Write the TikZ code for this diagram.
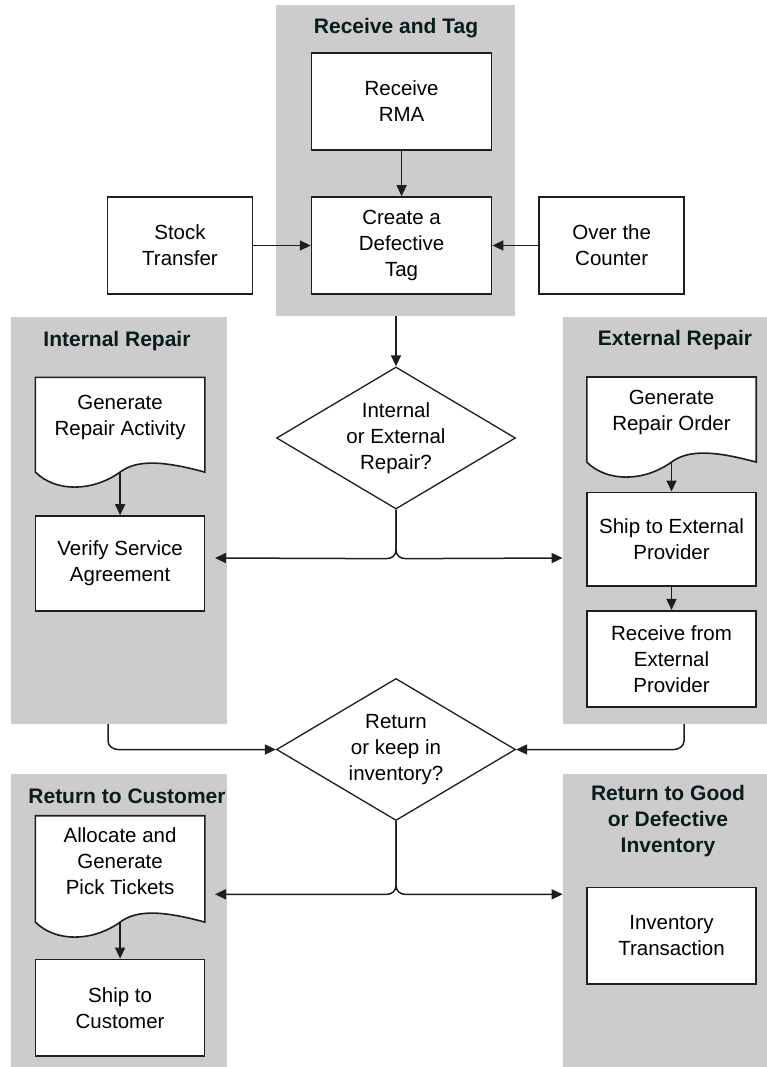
\documentclass[tikz,border=0pt]{standalone}
\usepackage{fontspec}
\setmainfont{Liberation Sans}
\usetikzlibrary{arrows.meta,shapes.geometric,calc}

\pgfdeclarelayer{panels}
\pgfdeclarelayer{docs}
\pgfsetlayers{panels,docs,main}

\definecolor{lane}{RGB}{204,204,204}
\definecolor{ink}{RGB}{30,30,30}
\definecolor{head}{RGB}{8,28,28}

% document symbol: straight top and sides, wavy bottom edge
\newcommand\docoutline[1]{%
  \draw[docline] (#1.north west) -- ($(#1.south west)+(0,15)$)
    .. controls +(20,20) and +(-28,20) .. ($(#1.south)+(0,15)$)
    .. controls +(16,-12) and +(-44,-12) .. ($(#1.south east)+(0,15)$)
    -- (#1.north east) -- cycle;}

\begin{document}
\begin{tikzpicture}[
  x=1pt, y=-1pt,
  txt/.style={font=\fontsize{20.5pt}{26pt}\selectfont, align=center},
  panel/.style={fill=lane, draw=none, anchor=north west, inner sep=0pt},
  lanetitle/.style={font=\fontsize{21pt}{26pt}\selectfont\bfseries, text=head, align=center, inner sep=0pt},
  box/.style={txt, draw=ink, line width=1.6pt, fill=white, minimum width=169pt, inner sep=2pt},
  doc/.style={txt, minimum width=169pt, inner sep=2pt, anchor=north},
  docline/.style={draw=ink, line width=1.6pt, fill=white},
  decision/.style={txt, diamond, draw=ink, line width=1.3pt, fill=white, aspect=1.68,
                   minimum width=239pt, minimum height=142pt, inner sep=0pt},
  flow/.style={draw=ink, line width=1.5pt, -{Triangle[length=11pt,width=10pt]}},
]
\useasboundingbox (0,0) rectangle (767,1067);

% swim-lane panels
\begin{pgfonlayer}{panels}
  \node[panel, minimum width=239pt, minimum height=311pt] (rt) at (276,5) {};
  \node[panel, minimum width=216pt, minimum height=407pt] (ir) at (11,317) {};
  \node[panel, minimum width=204.4pt, minimum height=407pt] (er) at (562.6,317) {};
  \node[panel, minimum width=216pt, minimum height=293pt] (rc) at (11,774) {};
  \node[panel, minimum width=204.4pt, minimum height=293pt] (rg) at (562.6,774) {};
\end{pgfonlayer}

% panel titles
\node[lanetitle] (rtt) at (396,28) {Receive and Tag};
\node[lanetitle] (irt) at (117,341) {Internal Repair};
\node[lanetitle] (ert) at (675,340) {External Repair};
\node[lanetitle] (rct) at (127,796) {Return to Customer};
\node[lanetitle] (rgt) at (668,821.5) {Return to Good\\or Defective\\Inventory};

% receiving
\node[box, minimum width=180pt, minimum height=97pt] (rma) at (401.6,101.5) {Receive\\RMA};
\node[box, minimum width=180pt, minimum height=97pt] (tag) at (401.6,245.5) {Create a\\Defective\\Tag};
\node[box, minimum width=145pt, minimum height=97pt] (st) at (180,245.5) {Stock\\Transfer};
\node[box, minimum width=145pt, minimum height=97pt] (otc) at (611.7,245.5) {Over the\\Counter};

% decisions
\node[decision] (d1) at (396,438) {Internal\\or External\\Repair?};
\node[decision] (d2) at (396,749.5) {Return\\or keep in\\inventory?};

% internal repair
\node[doc, minimum height=79.4pt] (gra) at (120.1,377.3) {Generate\\Repair Activity};
\node[box, minimum height=95pt] (vsa) at (120.1,563.5) {Verify Service\\Agreement};

% external repair
\node[doc, minimum height=69.7pt] (gro) at (671.5,377) {Generate\\Repair Order};
\node[box, minimum height=93.7pt] (sep) at (671.5,539.2) {Ship to External\\Provider};
\node[box, minimum height=96pt] (rfe) at (671.5,658.7) {Receive from\\External\\Provider};

% return to customer
\node[doc, minimum height=91pt] (agp) at (120.1,815.7) {Allocate and\\Generate\\Pick Tickets};
\node[box, minimum height=96.7pt] (stc) at (120.1,1007.7) {Ship to\\Customer};

% return to inventory
\node[box, minimum height=96.7pt] (it) at (671.5,935.7) {Inventory\\Transaction};

\begin{pgfonlayer}{docs}
  \docoutline{gra}
  \docoutline{gro}
  \docoutline{agp}
\end{pgfonlayer}

% connector ends
\coordinate (j1l) at (215,558);
\coordinate (j1r) at (562.6,558);
\coordinate (j2l) at (215,894.3);
\coordinate (j2r) at (562.6,894.3);
\coordinate (irout) at (108,724);
\coordinate (erout) at (684,724);

% connectors
\draw[flow] (rma.south) -- (tag.north);
\draw[flow] (st.east) -- (tag.west);
\draw[flow] (otc.west) -- (tag.east);
\draw[flow] (rt.south -| d1.north) -- (d1.north);

\draw[flow] (d1.south) -- ++(0,40) .. controls +(0,6) and +(6,0) .. ++(-10,9) -- (j1l);
\draw[flow] (d1.south) -- ++(0,40) .. controls +(0,6) and +(-6,0) .. ++(10,9) -- (j1r);

\draw[flow] ($(gra.south)+(0,15)$) -- (vsa.north);
\draw[flow] ($(gro.south)+(0,15)$) -- (sep.north);
\draw[flow] (sep.south) -- (rfe.north);

\draw[flow] (irout) -- ++(0,17) .. controls +(0,5) and +(-5,0) .. ++(10,8.5) -- (d2.west);
\draw[flow] (erout) -- ++(0,17) .. controls +(0,5) and +(5,0) .. ++(-10,8.5) -- (d2.east);

\draw[flow] (d2.south) -- ++(0,64) .. controls +(0,6) and +(6,0) .. ++(-10,9.3) -- (j2l);
\draw[flow] (d2.south) -- ++(0,64) .. controls +(0,6) and +(-6,0) .. ++(10,9.3) -- (j2r);

\draw[flow] ($(agp.south)+(0,15)$) -- (stc.north);
\end{tikzpicture}
\end{document}
